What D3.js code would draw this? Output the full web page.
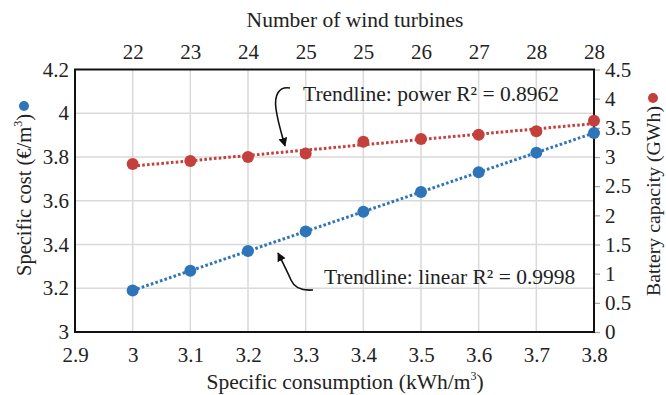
<!DOCTYPE html>
<html>
<head>
<meta charset="utf-8">
<script src="https://cdn.jsdelivr.net/npm/d3@7/dist/d3.min.js"></script>
<style>
  html, body { margin: 0; padding: 0; background: #fff; }
  svg { display: block; }
</style>
</head>
<body>
<svg id="chart" width="666" height="395"></svg>
<script>
// Specific consumption (kWh/m³) for each scenario
const consumption = [3.0, 3.1, 3.2, 3.3, 3.4, 3.5, 3.6, 3.7, 3.8];
// Specific cost (€/m³), left axis
const specificCost = [3.19, 3.28, 3.37, 3.46, 3.55, 3.64, 3.73, 3.82, 3.91];
// Battery capacity (GWh), right axis
const batteryCapacity = [2.88, 2.93, 3.00, 3.06, 3.26, 3.31, 3.38, 3.44, 3.62];
// Number of wind turbines, top axis
const windTurbines = [22, 23, 24, 25, 25, 26, 27, 28, 28];

const xTicks = [2.9, 3.0, 3.1, 3.2, 3.3, 3.4, 3.5, 3.6, 3.7, 3.8];
const leftTicks = [3.0, 3.2, 3.4, 3.6, 3.8, 4.0, 4.2];
const rightTicks = [0, 0.5, 1, 1.5, 2, 2.5, 3, 3.5, 4, 4.5];

const BLUE = "#2e74b8";
const RED = "#c4403c";
const FONT = "'Liberation Serif', 'Times New Roman', serif";
const INK = "#222";

const svg = d3.select("#chart").attr("font-family", FONT);
const L = 75, R = 594, T = 69.5, B = 332;

const x = d3.scaleLinear().domain([2.9, 3.8]).range([L, R]);
const yL = d3.scaleLinear().domain([3.0, 4.2]).range([B, T]);
const yR = d3.scaleLinear().domain([0, 4.5]).range([B, T]);

// gridlines
const grid = svg.append("g").attr("stroke", "#d9d9d9").attr("stroke-width", 1.5);
grid.selectAll("line.v").data(xTicks.slice(1, -1)).join("line")
  .attr("x1", d => x(d)).attr("x2", d => x(d)).attr("y1", T).attr("y2", B);
grid.selectAll("line.h").data(leftTicks.slice(1, -1)).join("line")
  .attr("x1", L).attr("x2", R).attr("y1", d => yL(d)).attr("y2", d => yL(d));

// axes
const fmt = d => String(+d.toFixed(1));
const gB = svg.append("g").attr("transform", `translate(0,${B})`)
  .call(d3.axisBottom(x).tickValues(xTicks).tickSize(0).tickPadding(15).tickFormat(fmt));
const gLft = svg.append("g").attr("transform", `translate(${L},0)`)
  .call(d3.axisLeft(yL).tickValues(leftTicks).tickSize(0).tickPadding(6).tickFormat(fmt));
const gR = svg.append("g").attr("transform", `translate(${R},0)`)
  .call(d3.axisRight(yR).tickValues(rightTicks).tickSize(6).tickPadding(5).tickFormat(fmt));
const gT = svg.append("g").attr("transform", `translate(0,${T})`)
  .call(d3.axisTop(x).tickValues(consumption).tickSize(0).tickPadding(11)
    .tickFormat((d, i) => windTurbines[i]));
[gB, gLft, gR, gT].forEach(g => {
  g.attr("font-family", FONT).attr("font-size", 21);
  g.select(".domain").remove();
  g.selectAll("text").attr("fill", INK);
});
gR.selectAll(".tick line").attr("stroke", "#a6a6a6").attr("stroke-width", 1.2);

// plot frame
svg.append("rect").attr("x", L).attr("y", T).attr("width", R - L).attr("height", B - T)
  .attr("fill", "none").attr("stroke", "#111").attr("stroke-width", 2);

// least-squares trendlines computed from the series
function linearFit(xs, ys) {
  const n = xs.length, mx = d3.mean(xs), my = d3.mean(ys);
  let sxy = 0, sxx = 0;
  for (let i = 0; i < n; i++) { sxy += (xs[i] - mx) * (ys[i] - my); sxx += (xs[i] - mx) ** 2; }
  const b = sxy / sxx;
  return { a: my - b * mx, b };
}
const lin = linearFit(consumption, specificCost);
const pw = linearFit(consumption.map(Math.log), batteryCapacity.map(Math.log));
const pwA = Math.exp(pw.a), pwB = pw.b;
const xs = d3.range(0, 41).map(i => 3.0 + i * 0.02);

const line = (ys, fx) => d3.line().x(d => x(d)).y(d => ys(fx(d)));

svg.append("path").datum(xs).attr("d", line(yR, v => pwA * Math.pow(v, pwB)))
  .attr("stroke", RED).attr("stroke-width", 3).attr("stroke-dasharray", "2.6 2.2").attr("fill", "none");
svg.append("path").datum(xs).attr("d", line(yL, v => lin.a + lin.b * v))
  .attr("stroke", BLUE).attr("stroke-width", 3).attr("stroke-dasharray", "2.6 2.2").attr("fill", "none");

// markers
svg.append("g").selectAll("circle").data(consumption).join("circle")
  .attr("cx", d => x(d)).attr("cy", (d, i) => yR(batteryCapacity[i])).attr("r", 6).attr("fill", RED);
svg.append("g").selectAll("circle").data(consumption).join("circle")
  .attr("cx", d => x(d)).attr("cy", (d, i) => yL(specificCost[i])).attr("r", 6).attr("fill", BLUE);

// text helper
const label = (sel, size = 21.5) => sel.attr("font-family", FONT).attr("fill", INK).attr("font-size", size);

// axis titles
svg.append("text").call(label).attr("x", 355).attr("y", 27).attr("text-anchor", "middle")
  .text("Number of wind turbines");

const bt = svg.append("text").call(label).attr("x", 345).attr("y", 389).attr("text-anchor", "middle");
bt.append("tspan").text("Specific consumption (kWh/m");
bt.append("tspan").attr("font-size", 12).attr("dy", -9).text("3");
bt.append("tspan").attr("dy", 9).text(")");

// left title with series marker at its upper end
const lt = svg.append("text").call(label, 20.5).attr("transform", "translate(31,114) rotate(-90)")
  .attr("text-anchor", "end");
lt.append("tspan").text("Specific cost (€/m");
lt.append("tspan").attr("font-size", 12).attr("dy", -9).text("3");
lt.append("tspan").attr("dy", 9).text(")");
svg.append("circle").attr("cx", 24).attr("cy", 106).attr("r", 5).attr("fill", BLUE);

// right title with series marker at its upper end
svg.append("text").call(label, 19.8).attr("transform", "translate(660,106) rotate(-90)")
  .attr("text-anchor", "end").text("Battery capacity (GWh)");
svg.append("circle").attr("cx", 653).attr("cy", 98).attr("r", 5).attr("fill", RED);

// trendline annotations
svg.append("text").call(label).attr("x", 303).attr("y", 101)
  .text("Trendline: power R² = 0.8962");
svg.append("text").call(label).attr("x", 324).attr("y", 284)
  .text("Trendline: linear R² = 0.9998");

// callout arrows
svg.append("defs").append("marker").attr("id", "ah").attr("viewBox", "0 0 10 10")
  .attr("refX", 9).attr("refY", 5).attr("markerWidth", 9).attr("markerHeight", 9)
  .attr("markerUnits", "userSpaceOnUse").attr("orient", "auto")
  .append("path").attr("d", "M0,0 L10,5 L0,10 Z").attr("fill", "#111");

svg.append("path").attr("d", "M290,88 C279,86 274,95 276,109 C278,123 282,135 285,146")
  .attr("fill", "none").attr("stroke", "#111").attr("stroke-width", 1.6).attr("marker-end", "url(#ah)");
svg.append("path").attr("d", "M313,290 C300,291 294,287 291,280 C287,271 283,263 278,253")
  .attr("fill", "none").attr("stroke", "#111").attr("stroke-width", 1.6).attr("marker-end", "url(#ah)");
</script>
</body>
</html>
